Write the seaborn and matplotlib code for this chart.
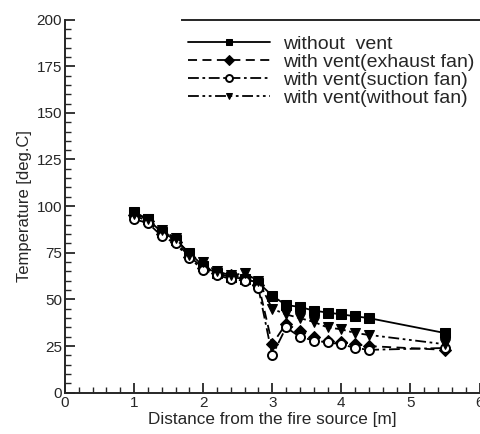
import matplotlib
matplotlib.use("Agg")
import matplotlib.pyplot as plt
import seaborn as sns
import pandas as pd
from matplotlib.ticker import MultipleLocator

distance = [1.0, 1.2, 1.4, 1.6, 1.8, 2.0, 2.2, 2.4, 2.6, 2.8,
            3.0, 3.2, 3.4, 3.6, 3.8, 4.0, 4.2, 4.4, 5.5]
without_vent = [97, 93, 86, 82, 75, 68, 64, 62, 61, 59,
                52, 47, 46, 44, 43, 42, 41, 40, 32]
exhaust_fan = [95, 92, 85, 81, 73, 67, 64, 63, 62, 58,
               26, 37, 33, 30, 28, 27, 26, 25, 23]
suction_fan = [93, 91, 84, 80, 72, 66, 63, 61, 60, 56,
               20, 35, 30, 28, 27, 26, 24, 23, 24]
without_fan = [96, 93, 87, 83, 74, 70, 65, 63, 64, 60,
               45, 42, 40, 38, 35, 34, 32, 31, 26]

labels = ["without  vent", "with vent(exhaust fan)",
          "with vent(suction fan)", "with vent(without fan)"]
series = [without_vent, exhaust_fan, suction_fan, without_fan]

rows = []
for lab, vals in zip(labels, series):
    for d, v in zip(distance, vals):
        rows.append({"Distance": d, "Temperature": v, "Case": lab})
df = pd.DataFrame(rows)

sns.set_style("ticks")
plt.rcParams["font.family"] = ["Liberation Sans", "DejaVu Sans"]

fig = plt.figure(figsize=(4.81, 4.34), dpi=100)
ax = fig.add_axes([0.135, 0.095, 0.862, 0.86])

markers = {labels[0]: "s", labels[1]: "D", labels[2]: "o", labels[3]: "v"}
dashes = {labels[0]: "", labels[1]: (5, 3), labels[2]: (6, 2, 1.5, 2),
          labels[3]: (6, 2, 1.5, 2, 1.5, 2)}

sns.lineplot(data=df, x="Distance", y="Temperature", hue="Case", style="Case",
             markers=markers, dashes=dashes, palette=["black"] * 4,
             hue_order=labels, style_order=labels, ax=ax, linewidth=1.3,
             markersize=6.5, markeredgecolor="black", legend="full")

# suction fan markers are open circles
for line in ax.get_lines():
    if line.get_marker() == "o":
        line.set_markerfacecolor("white")
        line.set_markeredgewidth(1.4)

ax.set_xlim(0, 6)
ax.set_ylim(0, 200)
ax.xaxis.set_major_locator(MultipleLocator(1))
ax.xaxis.set_minor_locator(MultipleLocator(0.2))
ax.yaxis.set_major_locator(MultipleLocator(25))
ax.yaxis.set_minor_locator(MultipleLocator(5))
ax.tick_params(which="major", direction="in", length=7, width=1.3,
               labelsize=11, pad=2)
ax.tick_params(which="minor", direction="in", length=4, width=1.0)
ax.set_xlabel("Distance from the fire source [m]", fontsize=12.3, labelpad=2)
ax.set_ylabel("Temperature [deg.C]", fontsize=12, labelpad=3)

ax.spines["right"].set_visible(False)
ax.spines["top"].set_bounds(1.7, 6)
for s in ["left", "bottom", "top"]:
    ax.spines[s].set_linewidth(1.4)

leg = ax.legend(title=None, frameon=False, loc="upper right",
                bbox_to_anchor=(1.015, 0.99), fontsize=14, handlelength=4.2,
                labelspacing=0.03, handletextpad=0.65, borderaxespad=0.2)
for h in leg.legend_handles:
    h.set_markersize(5)

fig.savefig("out.png", dpi=100)
